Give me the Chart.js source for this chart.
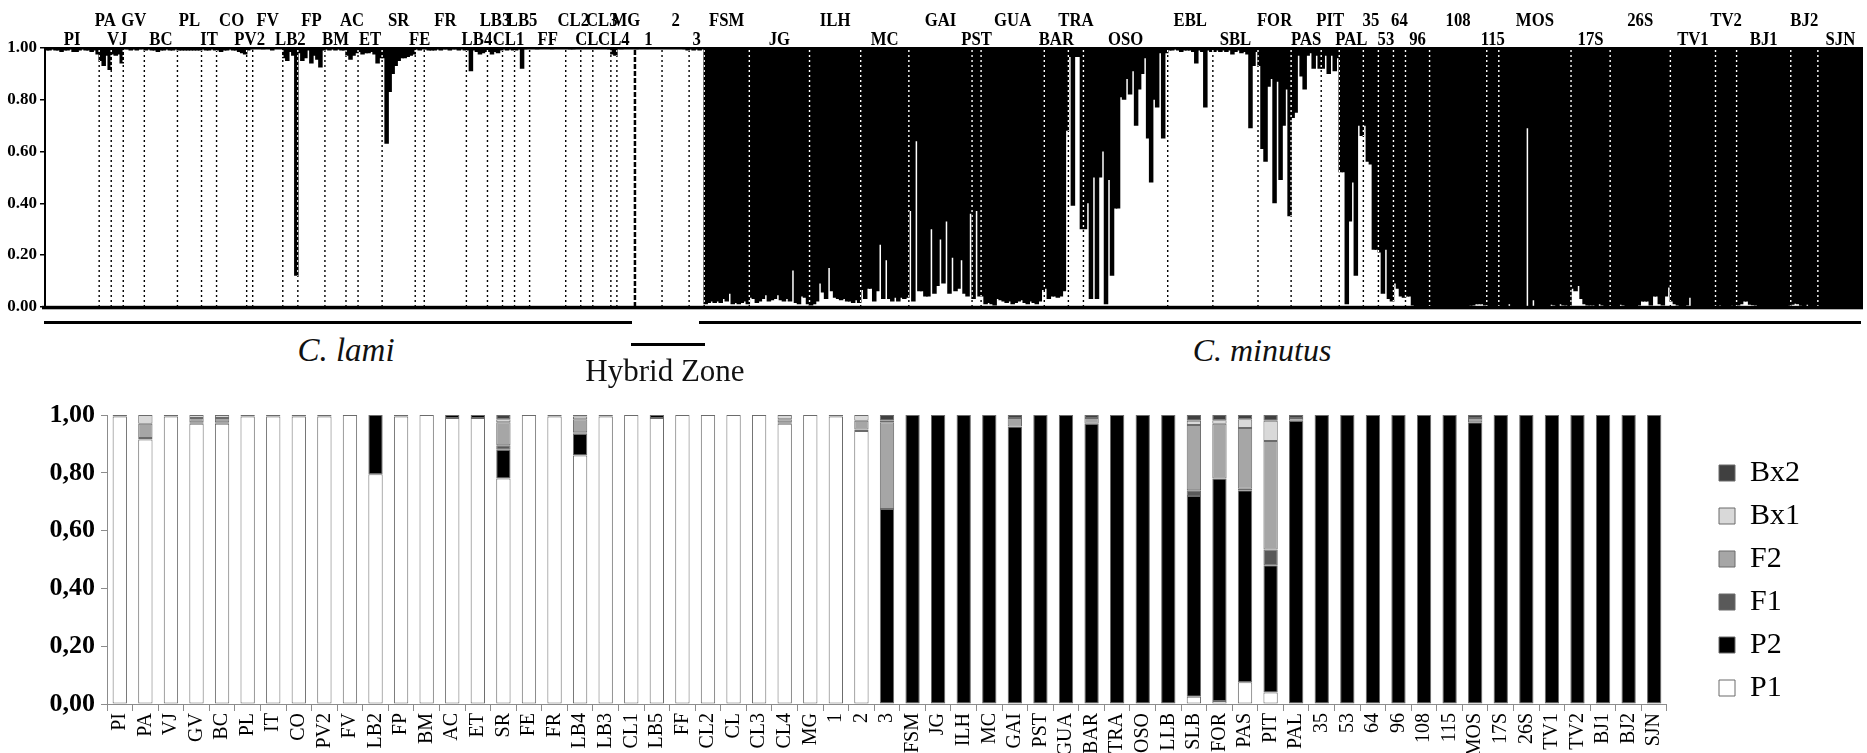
<!DOCTYPE html>
<html>
<head>
<meta charset="utf-8">
<script src="https://cdn.jsdelivr.net/npm/chart.js@4.4.0/dist/chart.umd.min.js"></script>
<style>
html, body { margin: 0; padding: 0; background: #fff; }
#page { position: relative; width: 1867px; height: 753px; overflow: hidden; font-family: "Liberation Serif", serif; }
.box { position: absolute; }
.rule { position: absolute; height: 3px; background: #000; }
.tag { position: absolute; white-space: nowrap; transform: translate(-50%, -50%); color: #111; z-index: 2; }
</style>
</head>
<body>
<div id="page">
  <div class="box" style="left:0;top:0;width:1867px;height:320px"><canvas id="structCanvas"></canvas></div>
  <div class="rule" style="left:44px;top:321px;width:588px"></div>
  <div class="rule" style="left:631px;top:343px;width:74px"></div>
  <div class="rule" style="left:699px;top:321px;width:1162px"></div>
  <div class="tag" style="left:346px;top:350px;font-size:33px;font-style:italic">C. lami</div>
  <div class="tag" style="left:665px;top:371px;font-size:31px">Hybrid Zone</div>
  <div class="tag" style="left:1262px;top:350px;font-size:32px;font-style:italic">C. minutus</div>
  <div class="box" style="left:0;top:380px;width:1867px;height:373px"><canvas id="hybridCanvas"></canvas></div>
</div>
<script>
// STRUCTURE plot: share of cluster 1 (white) for each individual, grouped by population
const lamiPops = ["PI","PA","VJ","GV","BC","PL","IT","CO","PV2","FV","LB2","FP","BM","AC","ET","SR","FE","FR","LB4","LB3","CL1","LB5","FF","CL2","CL","CL3","CL4","MG","1","2","3"];
const lamiQ = [
  [0.99,0.99,0.995,0.99,0.99,0.985,0.99,0.99,0.995,0.985,0.985,0.99,0.995,0.99,0.99,0.985,0.99,0.975],
  [0.95,0.93,0.97,0.915],
  [0.975,0.97,0.975,0.94],
  [1,0.995,0.99,0.995,0.99,0.995,1],
  [0.99,0.995,0.99,0.99,0.985,0.99,0.99,0.995,0.99,0.99,0.995],
  [0.99,0.99,0.99,0.99,0.99,0.99,0.99,0.99],
  [0.995,0.99,0.99,0.995,0.99],
  [0.99,0.985,0.99,0.99,0.995,0.99,0.99,0.985,0.98,0.975],
  [0.99,0.995],
  [1,1,1,0.995,1,1,0.99,1,1,1],
  [0.96,0.95,0.985,0.97,0.12],
  [0.98,0.95,0.96,0.99,0.94,0.97,0.955,0.925,0.99],
  [0.995,0.99,0.995,0.99,0.995,0.99,0.99],
  [0.97,0.955,0.97,0.98],
  [0.985,0.975,0.98,0.98,0.985,0.975,0.94,0.96],
  [0.96,0.63,0.83,0.90,0.93,0.95,0.96,0.96,0.965,0.97,0.975],
  [0.995,0.99,1],
  [0.995,0.99,0.99,0.99,0.995,0.99,0.995,0.995,0.99,0.995,0.995,0.99,0.995,0.99],
  [0.99,0.91,0.99,0.985,0.975,0.98,0.985],
  [0.985,0.975,0.985,0.98,0.99],
  [0.995,0.99,0.995,0.99],
  [0.99,0.995,0.92,0.995,1],
  [1,1,0.995,1,1,1,1,0.995,1,1,1,1],
  [1,0.995,0.995,1,1],
  [1,1,1,1],
  [1,1,1,1,1,0.995],
  [0.975,0.97],
  [1,0.995,1,1,1,1],
  [0.995,1,1,1,1,1,1,1,1],
  [1,1,1,1,1,1,1,0.995,0.99],
  [0.995,0.99,0.995,0.99,1]
];
const minutusPops = ["FSM","JG","ILH","MC","GAI","PST","GUA","BAR","TRA","OSO","EBL","SBL","FOR","PAS","PIT","PAL","35","53","64","96","108","115","MOS","17S","26S","TV1","TV2","BJ1","BJ2","SJN"];
const minutusQ = [
  [0.01,0.015,0.02,0.015,0.02,0.015,0.03,0.02,0.05,0.01,0.015,0.01,0.015,0.02,0.01],
  [0.035,0.03,0.015,0.02,0.03,0.045,0.02,0.025,0.03,0.045,0.025,0.02,0.03,0.02,0.14,0.015,0.01,0.04,0.035,0.01],
  [0.005,0.01,0.02,0.09,0.055,0.03,0.15,0.06,0.035,0.03,0.025,0.03,0.02,0.02,0.015,0.025,0.015],
  [0.065,0.03,0.07,0.07,0.02,0.06,0.24,0.03,0.18,0.03,0.02,0.035,0.02,0.035,0.03,0.035],
  [0.37,0.02,0.64,0.06,0.06,0.04,0.04,0.30,0.05,0.08,0.26,0.09,0.33,0.05,0.19,0.06,0.07,0.18,0.05,0.04,0.36],
  [0.03,0.37,0.04],
  [0.04,0.01,0.015,0.01,0.005,0.03,0.025,0.02,0.015,0.02,0.01,0.015,0.02,0.025,0.015,0.01,0.02,0.015,0.01,0.02,0.065],
  [0.07,0.03,0.04,0.04,0.035,0.04,0.06,0.68],
  [0.965,0.39,0.965,0.965,0.30],
  [0.30,0.40,0.03,0.50,0.03,0.50,0.60,0.01,0.49,0.12,0.38,0.38,0.81,0.80,0.88,0.82,0.91,0.70,0.84,0.90,0.96,0.65,0.48,0.80,0.77,0.98,0.65,0.98],
  [0.99,0.99,0.995,0.99,0.985,0.99,0.99,0.99,0.985,0.94,0.99,0.985,0.77,0.99,0.985],
  [0.985,0.99,0.985,0.99,0.985,0.99,0.975,0.985,0.99,0.98,0.985,0.975,0.69,0.93,0.985],
  [0.93,0.61,0.56,0.85,0.88,0.40,0.87,0.49,0.70,0.84,0.35],
  [0.73,0.75,0.97,0.89,0.84,0.97,0.98,0.92,0.97,0.92],
  [0.92,0.97,0.90,0.97,0.91,0.96],
  [0.52,0.52,0.01,0.33,0.48,0.12,0.70,0.66],
  [0.70,0.56,0.55,0.22,0.22],
  [0.21,0.05,0.22,0.03,0.02],
  [0.09,0.07,0.04,0.035],
  [0.04,0.04,0.005,0,0,0.003,0.002,0],
  [0,0.002,0,0.002,0,0.002,0.001,0,0.003,0.003,0.002,0.003,0.002,0.004,0.005,0.01,0.01,0.01,0.005],
  [0.003,0.003,0.002,0.001],
  [0.002,0.003,0.002,0.01,0.003,0.002,0.001,0.002,0.003,0.69,0.002,0.025,0.003,0.002,0.001,0.002,0.003,0.008,0.005,0.002,0.01,0.005,0.005,0.002],
  [0.07,0.06,0.08,0.03,0.01,0.005,0.005,0.005,0.003,0.01,0.005,0.003,0.003],
  [0.003,0.003,0.003,0.008,0.005,0.003,0.002,0.003,0.003,0.005,0.02,0.02,0.02,0.005,0.04,0.04,0.01,0.005,0.04,0.075],
  [0.02,0.01,0.005,0.003,0.003,0.005,0.035,0.003,0.002,0.003,0.003,0.002,0.002,0.002,0.002],
  [0.002,0.005,0.002,0.003,0.002,0.004,0.002],
  [0.005,0.01,0.02,0.02,0.008,0.006,0.005,0.003,0.003,0.002,0.002,0.001,0,0,0.002,0.002,0.002,0.004],
  [0.008,0.012,0.01,0.004,0.003,0.008,0.003,0.002,0.002],
  [0.003,0.002,0.003,0.002,0.002,0.002,0.002,0.002,0.002,0.002,0.001,0,0,0,0]
];

// NewHybrids classes per population
const popCats = ["PI","PA","VJ","GV","BC","PL","IT","CO","PV2","FV","LB2","FP","BM","AC","ET","SR","FE","FR","LB4","LB3","CL1","LB5","FF","CL2","CL","CL3","CL4","MG","1","2","3","FSM","JG","ILH","MC","GAI","PST","GUA","BAR","TRA","OSO","LLB","SLB","FOR","PAS","PIT","PAL","35","53","64","96","108","115","MOS","17S","26S","TV1","TV2","BJ1","BJ2","SJN"];
const p1  = [.995,.915,.995,.97,.97,.995,.995,.995,.995,1, .795,.995,1,.99,.99,.78,1,.995,.86,.995, 1,.99,1,1,1,1,.97,1,.995,.945, 0,0,0,0,0,0,0,0,0,0, 0,0,.025,.01,.075,.04,0,0,0,0, 0,0,0,0,0,0,0,0,0,0, 0];
const p2  = [.005,.005,.005,0,0,.005,.005,.005,.005,0, .205,.005,0,.01,.01,.10,0,.005,.075,.005, 0,.01,0,0,0,0,.005,0,.005,.005, .675,1,1,1,1,.96,1,1,.97,1, 1,1,.695,.77,.665,.44,.98,1,1,1, 1,1,1,.975,1,1,1,1,1,1, 1];
const f1  = [0,0,0,.005,.005,0,0,0,0,0, 0,0,0,0,0,.015,0,0,.005,0, 0,0,0,0,0,0,0,0,0,0, 0,0,0,0,0,0,0,0,0,0, 0,0,.02,0,.005,.055,0,0,0,0, 0,0,0,0,0,0,0,0,0,0, 0];
const f2  = [0,.05,0,.015,.015,0,0,0,0,0, 0,0,0,0,0,.08,0,0,.045,0, 0,0,0,0,0,0,.01,0,0,.03, .30,0,0,0,0,.03,0,0,.02,0, 0,0,.225,.19,.21,.375,.01,0,0,0, 0,0,0,.015,0,0,0,0,0,0, 0];
const bx1 = [0,.03,0,.01,.01,0,0,0,0,0, 0,0,0,0,0,.01,0,0,.01,0, 0,0,0,0,0,0,.015,0,0,.02, .005,0,0,0,0,0,0,0,0,0, 0,0,.015,.012,.03,.07,0,0,0,0, 0,0,0,0,0,0,0,0,0,0, 0];
const bx2 = [0,0,0,0,0,0,0,0,0,0, 0,0,0,0,0,.015,0,0,.005,0, 0,0,0,0,0,0,0,0,0,0, .02,0,0,0,0,.01,0,0,.01,0, 0,0,.02,.018,.015,.02,.01,0,0,0, 0,0,0,.01,0,0,0,0,0,0, 0];

const serif = '"Liberation Serif", "Times New Roman", serif';

// ---------- top panel ----------
const structPops = lamiPops.concat(minutusPops);
const structQ = lamiQ.concat(minutusQ);
let indLabels = [];
let indBars = [];
let popEnds = [];
structQ.forEach(function (vals) {
    vals.forEach(function (q) {
        indLabels.push(String(indBars.length));
        indBars.push([q, 1]);
    });
    popEnds.push(indBars.length);
});

const structDeco = {
    id: "structDeco",
    beforeDraw(chart) {
        const ctx = chart.ctx;
        ctx.save();
        ctx.fillStyle = "#fff";
        ctx.fillRect(0, 0, chart.width, chart.height);
        ctx.restore();
    },
    afterDatasetsDraw(chart) {
        const ctx = chart.ctx;
        const a = chart.chartArea;
        const x = chart.scales.x;

        // population separators, black on white and white on black
        ctx.save();
        ctx.globalCompositeOperation = "difference";
        ctx.strokeStyle = "#fff";
        popEnds.slice(0, -1).forEach(function (b, i) {
            const px = (x.getPixelForValue(b - 1) + x.getPixelForValue(b)) / 2;
            const heavy = structPops[i] === "MG";
            ctx.lineWidth = heavy ? 2.5 : 1.4;
            ctx.setLineDash(heavy ? [5, 2] : [2, 3]);
            ctx.beginPath();
            ctx.moveTo(px, a.top + 2);
            ctx.lineTo(px, a.bottom);
            ctx.stroke();
        });
        ctx.restore();

        ctx.save();
        ctx.fillStyle = "#000";
        ctx.fillRect(a.left, a.top - 1, a.right - a.left, 2.5);
        ctx.fillRect(a.left - 3, a.bottom - 1, a.right - a.left + 3, 3.5);

        // population names, alternating rows, a bit condensed like the original
        ctx.font = "bold 19px " + serif;
        ctx.textAlign = "center";
        ctx.textBaseline = "alphabetic";
        let start = 0;
        popEnds.forEach(function (b, i) {
            const cx = (x.getPixelForValue(start) + x.getPixelForValue(b - 1)) / 2;
            ctx.save();
            ctx.translate(cx, i % 2 ? 26 : 45);
            ctx.scale(0.88, 1);
            ctx.fillText(structPops[i], 0, 0);
            ctx.restore();
            start = b;
        });
        ctx.restore();
    }
};

const structChart = new Chart(document.getElementById("structCanvas"), {
    type: "bar",
    data: {
        labels: indLabels,
        datasets: [
            {
                data: indBars,
                backgroundColor: "#000",
                borderWidth: 0,
                barPercentage: 1.5,
                categoryPercentage: 1
            }
        ]
    },
    options: {
        responsive: true,
        maintainAspectRatio: false,
        animation: false,
        layout: { padding: { top: 48, bottom: 13, right: 4, left: 0 } },
        plugins: { legend: { display: false }, tooltip: { enabled: false } },
        scales: {
            x: { display: false },
            y: {
                min: 0,
                max: 1,
                afterFit(s) { s.width = 45; },
                ticks: {
                    stepSize: 0.2,
                    padding: 3,
                    color: "#000",
                    font: { family: serif, size: 17, weight: "bold" },
                    callback: function (v) { return v.toFixed(2); }
                },
                grid: { drawOnChartArea: false, tickLength: 5, color: "#000", lineWidth: 1.5 },
                border: { color: "#000", width: 2 }
            }
        }
    },
    plugins: [structDeco]
});

// ---------- bottom panel ----------
const legendPlacer = {
    id: "legendPlacer",
    afterLayout(chart) {
        const l = chart.legend;
        if (!l || !l.columnSizes || !l.columnSizes.length) return;
        const pad = l.options.labels.padding;
        const dx = 1719 - (l.left + pad);
        const curY = (l.top + pad + l.bottom - l.columnSizes[0].height) / 2;
        const dy = (473 - 380 - 15) - curY;
        l.left += dx; l.right += dx;
        l.top += dy; l.bottom += dy;
    }
};

const classColors = ["#ffffff", "#000000", "#595959", "#a6a6a6", "#d9d9d9", "#404040"];
const classNames = ["P1", "P2", "F1", "F2", "Bx1", "Bx2"];
const classData = [p1, p2, f1, f2, bx1, bx2];

const hybridChart = new Chart(document.getElementById("hybridCanvas"), {
    type: "bar",
    data: {
        labels: popCats,
        datasets: classNames.map(function (name, i) {
            return {
                label: name,
                data: classData[i],
                backgroundColor: classColors[i],
                borderColor: "#6b6b6b",
                borderWidth: 1,
                borderSkipped: false,
                barPercentage: 0.56,
                categoryPercentage: 1
            };
        })
    },
    options: {
        responsive: true,
        maintainAspectRatio: false,
        animation: false,
        layout: { padding: { top: 35, right: 96, left: 0, bottom: 0 } },
        plugins: {
            legend: {
                position: "right",
                reverse: true,
                labels: {
                    boxWidth: 16,
                    boxHeight: 16,
                    padding: 13,
                    color: "#000",
                    font: { family: serif, size: 30 }
                }
            },
            tooltip: { enabled: false }
        },
        scales: {
            x: {
                stacked: true,
                afterFit(s) { s.height = 49; },
                ticks: {
                    autoSkip: false,
                    maxRotation: 90,
                    minRotation: 90,
                    padding: 2,
                    color: "#000",
                    font: { family: serif, size: 20 }
                },
                grid: { drawOnChartArea: false, tickLength: 7, color: "#8c8c8c" },
                border: { color: "#8c8c8c" }
            },
            y: {
                stacked: true,
                min: 0,
                max: 1,
                afterFit(s) { s.width = 107; },
                ticks: {
                    stepSize: 0.2,
                    padding: 6,
                    color: "#000",
                    font: { family: serif, size: 26, weight: "bold" },
                    callback: function (v) { return v.toFixed(2).replace(".", ","); }
                },
                grid: { drawOnChartArea: false, tickLength: 6, color: "#8c8c8c" },
                border: { color: "#8c8c8c" }
            }
        }
    },
    plugins: [legendPlacer]
});
</script>
</body>
</html>
